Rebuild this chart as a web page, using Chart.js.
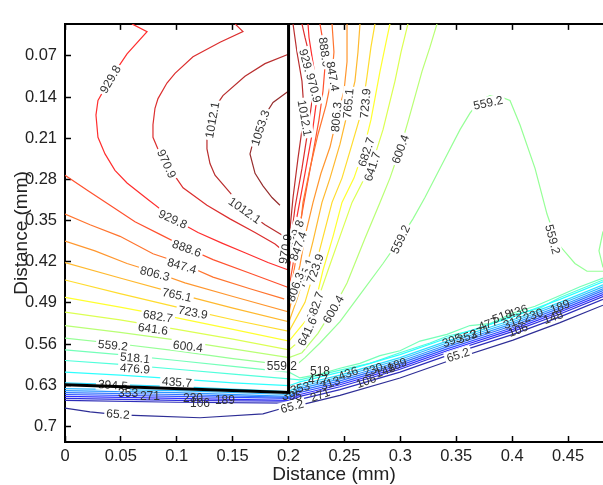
<!DOCTYPE html>
<html><head><meta charset="utf-8">
<script src="https://cdn.jsdelivr.net/npm/chart.js@4.4.1/dist/chart.umd.min.js"></script>
<style>html,body{margin:0;padding:0;background:#fff;}#wrap{width:603px;height:485px;}</style>
</head><body><div id="wrap"><canvas id="c" width="603" height="485"></canvas></div>
<script>
// ---- tick labels ----
const xTickValues = [0,0.05,0.1,0.15,0.2,0.25,0.3,0.35,0.4,0.45];
const xTickLabels = ['0','0.05','0.1','0.15','0.2','0.25','0.3','0.35','0.4','0.45'];
const yTickValues = [0.07,0.14,0.21,0.28,0.35,0.42,0.49,0.56,0.63,0.7];
const yTickLabels = ['0.07','0.14','0.21','0.28','0.35','0.42','0.49','0.56','0.63','0.7'];
const xRange = [0, 0.4813];
const yRange = [0.0156, 0.7265];

// ---- contour levels ----
const levels = [65.2,106.4,147.6,188.8,229.9,271.1,312.3,353.5,394.6,435.7,476.9,518.1,559.2,600.4,641.6,682.7,723.9,765.1,806.3,847.4,888.6,929.8,970.9,1012.1,1053.3];

// ---- contour lines, [x (mm), y (mm)] ----
const c65_2 = [[0,.6688],[.0224,.6754],[.0492,.6803],[.0742,.682],[.1208,.6853],[.1771,.6787],[.1923,.6704],[.2004,.6655],[.2102,.6638],[.246,.6473],[.2997,.6176],[.3417,.5896],[.4008,.5533],[.4428,.5236],[.4813,.4939]];
const c106_4 = [[0,.6556],[.1002,.6589],[.2004,.6605],[.2102,.6539],[.246,.6374],[.2997,.6077],[.3417,.5797],[.4008,.5434],[.4428,.5137],[.4813,.484]];
const c147_6 = [[0,.6523],[.1002,.6556],[.2004,.6572],[.2102,.649],[.246,.6325],[.2997,.6028],[.3417,.5747],[.4008,.5384],[.4428,.5088],[.4813,.4791]];
const c188_8 = [[0,.649],[.1002,.6523],[.2004,.6556],[.2102,.6457],[.246,.6292],[.2997,.5995],[.3417,.5714],[.4008,.5351],[.4428,.5055],[.4813,.4758]];
const c229_9 = [[0,.6457],[.1002,.649],[.2004,.6523],[.2102,.6424],[.246,.6259],[.2997,.5962],[.3417,.5681],[.4008,.5318],[.4428,.5022],[.4813,.4725]];
const c271_1 = [[0,.6424],[.1002,.6457],[.2004,.6506],[.2102,.6391],[.246,.6226],[.2997,.5929],[.3417,.5648],[.4008,.5285],[.4428,.4989],[.4813,.4692]];
const c312_3 = [[0,.6391],[.1002,.6424],[.2004,.649],[.2102,.6358],[.246,.6193],[.2997,.5896],[.3417,.5615],[.4008,.5252],[.4428,.4956],[.4813,.4659]];
const c353_5 = [[0,.6358],[.1002,.6391],[.2004,.6457],[.2102,.6325],[.246,.616],[.2997,.5863],[.3417,.5582],[.4008,.522],[.4428,.4923],[.4813,.4626]];
const c394_6 = [[0,.6259],[.1002,.6325],[.2004,.6407],[.2102,.6292],[.246,.6127],[.2997,.583],[.3417,.5549],[.4008,.5187],[.4428,.489],[.4813,.4593]];
const c435_7 = [[0,.6077],[.0492,.6127],[.1002,.6193],[.1503,.6259],[.2004,.6308],[.2102,.6242],[.246,.6077],[.2997,.578],[.3417,.55],[.4008,.5137],[.4428,.484],[.4813,.4543]];
const c476_9 = [[0,.5879],[.0492,.5945],[.1002,.6028],[.1503,.611],[.2004,.6193],[.2102,.6209],[.246,.6044],[.2729,.5929],[.2997,.5747],[.3265,.5582],[.3417,.5467],[.3713,.5335],[.4008,.5104],[.4249,.4989],[.4428,.4807],[.4813,.451]];
const c518_1 = [[0,.5698],[.0492,.578],[.1002,.5879],[.1503,.5978],[.2004,.6077],[.2102,.6176],[.2281,.611],[.246,.6011],[.2639,.5929],[.2818,.5797],[.2997,.5714],[.3176,.5549],[.3417,.5434],[.3623,.5285],[.3802,.5252],[.4008,.5071],[.4205,.4956],[.4428,.4774],[.4607,.4626],[.4813,.4477]];
const c559_2 = [[0,.55],[.0492,.5599],[.1002,.5714],[.1503,.5846],[.2004,.5962],[.2075,.5945],[.2147,.583],[.2281,.5582],[.246,.522],[.2639,.4758],[.2845,.423],[.2997,.3817],[.3113,.3471],[.322,.3108],[.3399,.2448],[.3534,.1954],[.3623,.1673],[.3713,.1459],[.3802,.1376],[.3891,.1393],[.3981,.1459],[.407,.1871],[.4205,.2613],[.4312,.3389],[.4366,.3685],[.4428,.3933],[.4562,.423],[.467,.4362],[.4813,.4362]];
const c559_2b = [[.4813,.3685],[.4777,.4015],[.4813,.4296]];
const c600_4 = [[0,.5285],[.0492,.5401],[.1002,.5533],[.1503,.5681],[.2004,.583],[.212,.5747],[.2263,.5417],[.2398,.5005],[.2523,.456],[.2684,.3801],[.2818,.3191],[.2907,.2778],[.2997,.2283],[.3068,.1822],[.3194,.0964],[.3265,.0552],[.3328,.0156]];
const c641_6 = [[0,.5055],[.0492,.5187],[.1002,.5351],[.1503,.5516],[.2004,.5698],[.2075,.5582],[.2165,.5335],[.2263,.484],[.2353,.4345],[.246,.3768],[.2568,.3191],[.2657,.2861],[.2755,.2498],[.2845,.1954],[.2952,.1129],[.3006,.0634],[.3068,.0156]];
const c682_7 = [[0,.4807],[.0492,.4972],[.1002,.5154],[.1503,.5351],[.2004,.5549],[.2075,.5384],[.2147,.522],[.2236,.4923],[.2308,.4345],[.2398,.3768],[.2478,.3191],[.2585,.2778],[.2666,.2333],[.2737,.1789],[.2818,.0964],[.2863,.0552],[.2907,.0156]];
const c723_9 = [[0,.451],[.0492,.4741],[.1002,.4972],[.1503,.5187],[.2004,.5384],[.2075,.5137],[.2147,.489],[.2219,.4428],[.2299,.385],[.2389,.3191],[.2478,.2778],[.2568,.2201],[.2657,.1624],[.2702,.1046],[.2737,.0552],[.2773,.0156]];
const c765_1 = [[0,.4213],[.0492,.4477],[.1002,.4741],[.1503,.4989],[.2004,.522],[.2075,.484],[.2147,.4395],[.2219,.385],[.2299,.3191],[.2371,.2778],[.246,.2201],[.2532,.1624],[.2594,.1129],[.2621,.0634],[.2639,.0156]];
const c806_3 = [[0,.385],[.0268,.4015],[.0555,.423],[.0805,.4378],[.1073,.456],[.1503,.4791],[.2004,.5055],[.2049,.4675],[.2102,.4263],[.2147,.3768],[.2219,.3191],[.229,.2696],[.2371,.225],[.2433,.1739],[.2496,.1294],[.2523,.0799],[.2523,.0156]];
const c847_4 = [[0,.3389],[.0224,.357],[.0492,.3768],[.0787,.4065],[.1047,.423],[.1324,.4461],[.1655,.4659],[.2004,.4857],[.2049,.4345],[.2093,.385],[.2129,.3191],[.2192,.2613],[.2263,.2036],[.2335,.1541],[.2389,.1046],[.2406,.0634],[.2389,.0156]];
const c888_6 = [[0,.2729],[.0206,.2993],[.0403,.324],[.0626,.3521],[.085,.3735],[.1091,.3966],[.1324,.4164],[.1655,.4395],[.2004,.4642],[.2067,.3933],[.2138,.3191],[.221,.2448],[.2272,.1789],[.2308,.1294],[.2326,.0881],[.2317,.0552],[.2281,.0156]];
const c929_8 = [[.0599,.0156],[.0734,.0288],[.0555,.0667],[.0403,.1096],[.0295,.1459],[.0277,.1706],[.0295,.2085],[.0358,.2366],[.0447,.2646],[.0555,.2861],[.0742,.3141],[.0966,.3471],[.119,.3702],[.1404,.3883],[.161,.4048],[.1816,.4213],[.2004,.4345],[.2075,.3438],[.2147,.2696],[.221,.2036],[.2245,.1541],[.2245,.1129],[.221,.0716],[.2183,.0387],[.2174,.0156]];
const c970_9 = [[.1521,.0156],[.1592,.0288],[.1387,.0469],[.1145,.0716],[.0984,.0997],[.0912,.1162],[.0832,.1426],[.0805,.1591],[.0787,.1871],[.0787,.2085],[.085,.2366],[.0912,.2531],[.0984,.2745],[.1056,.2943],[.127,.324],[.1476,.3471],[.17,.3702],[.1879,.39],[.2004,.4098],[.2058,.3273],[.212,.2613],[.2174,.1954],[.221,.1459],[.2219,.1244],[.2201,.0799],[.2147,.0387],[.212,.0156]];
const c1012_1 = [[.2004,.0667],[.1789,.0832],[.161,.1046],[.1413,.1376],[.1342,.1574],[.1297,.1822],[.127,.2036],[.127,.2283],[.1297,.2531],[.1342,.2729],[.1476,.3026],[.161,.3323],[.1789,.357],[.2004,.3817],[.204,.3108],[.2084,.2448],[.212,.1954],[.2138,.1624],[.212,.1129],[.2075,.0634],[.204,.0156]];
const c1053_3 = [[.2004,.1294],[.1861,.1492],[.1762,.1789],[.17,.2036],[.1655,.2366],[.17,.2696],[.1771,.291],[.1852,.3108],[.1923,.324]];

const contourLines = [
  [65.2,c65_2],[106.4,c106_4],[147.6,c147_6],[188.8,c188_8],[229.9,c229_9],[271.1,c271_1],
  [312.3,c312_3],[353.5,c353_5],[394.6,c394_6],[435.7,c435_7],[476.9,c476_9],[518.1,c518_1],
  [559.2,c559_2],[559.2,c559_2b],[600.4,c600_4],[641.6,c641_6],[682.7,c682_7],[723.9,c723_9],
  [765.1,c765_1],[806.3,c806_3],[847.4,c847_4],[888.6,c888_6],[929.8,c929_8],[970.9,c970_9],
  [1012.1,c1012_1],[1053.3,c1053_3]
];

// ---- domain boundary (thick black line) ----
const boundaryX = [0, 0.2, 0.2];
const boundaryY = [0.6292, 0.6424, 0.0156];

// ---- inline contour labels: text, x, y, angle ----
const gapLabels = [
  ['929.8',.0403,.1096,-60],['1012.1',.1315,.1789,-80],['1053.3',.1744,.1921,-72],
  ['970.9',.0912,.2531,65],['1012.1',.161,.3323,35],['929.8',.0966,.3471,25],
  ['888.6',.1091,.3966,20],['847.4',.1047,.4263,16],['806.3',.0805,.4395,14],
  ['765.1',.1002,.4758,12],['723.9',.1145,.5055,11],['682.7',.0832,.5121,9],
  ['641.6',.0787,.5335,8],['600.4',.11,.5632,7],['559.2',.0429,.5615,6],
  ['518.1',.0626,.583,5],['476.9',.0626,.6011,4],['435.7',.1002,.6242,4],
  ['394.5',.0429,.6292,4],['65.2',.0474,.6787,4],['559.2',.194,.5962,0],
  ['65.2',.2031,.6655,-15],
  ['929.8',.2165,.0832,75],['970.9',.2228,.1244,75],['1012.1',.2147,.1756,80],
  ['888.6',.2326,.0634,82],['847.4',.2398,.1046,80],['806.3',.2424,.1739,-85],
  ['765.1',.2532,.1508,-85],['723.9',.2684,.1508,-85],['682.7',.2693,.2333,-72],
  ['641.7',.2746,.258,-72],['600.4',.2997,.2283,-70],['559.2',.2997,.3817,-65],
  ['559.2',.3784,.1492,-12],['559.2',.4366,.3817,75],
  ['929.8',.2058,.3735,-70],['847.4',.2084,.3933,-70],['765.1',.2147,.4395,-70],
  ['723.9',.2236,.4312,-70],['806.3',.2058,.4626,-70],['682.7',.2236,.4956,-70],
  ['641.6',.2165,.5384,-65],['600.4',.2398,.5005,-60],['970.9',.1968,.3982,-80],
  ['65.2',.3516,.578,-18]
];
const bandLabels = [
  ['518',.2281,.6044,0],['477',.2263,.6209,0],['395',.2031,.6473,0],['353',.2102,.6341,-15],
  ['313',.2371,.6259,-20],['271',.2281,.6457,-20],['436',.2532,.6094,-20],['230',.2755,.6028,-20],
  ['106',.2693,.6226,-20],['148',.2863,.6044,-20],['189',.297,.5945,-20],
  ['395',.3462,.5533,-20],['353',.3596,.5467,-20],['271',.3713,.5384,-20],['477',.3784,.5252,-20],
  ['518',.3909,.5121,-20],['312',.4008,.522,-20],['436',.4052,.5038,-20],['106',.4052,.5351,-20],
  ['230',.4187,.5104,-20],['148',.4366,.5137,-20],['189',.4428,.4956,-20],
  ['353',.0564,.6424,0],['271',.076,.6473,0],['230',.1145,.6506,0],['106',.1208,.6589,0],['189',.1431,.6539,0]
];

// ---- styling ----
const FONT = '"Liberation Sans", Arial, Helvetica, sans-serif';
function jet(level) {
  const t = (level - levels[0]) / (levels[levels.length-1] - levels[0]);
  const cl = v => Math.max(0, Math.min(1, v));
  const r = cl(1.5 - Math.abs(4*t - 3)), g = cl(1.5 - Math.abs(4*t - 2)), b = cl(1.5 - Math.abs(4*t - 1));
  const m = v => Math.round(v*255*0.82 + 255*0.18);
  return `rgb(${m(r)},${m(g)},${m(b)})`;
}

const datasets = [{
  data: boundaryX.map((x,i)=>({x, y: boundaryY[i]})),
  showLine: true, borderColor: '#000', borderWidth: 3, pointRadius: 0, fill: false
}];
contourLines.forEach(([lvl, pts]) => {
  datasets.push({
    data: pts.map(p => ({x: p[0], y: p[1]})),
    showLine: true, borderColor: jet(lvl), borderWidth: 1.2, pointRadius: 0, fill: false
  });
});

const labelPlugin = {
  id: 'clabels',
  beforeDatasetDraw(chart, args) {
    if (args.index !== 0) return;
    const ctx = chart.ctx, xs = chart.scales.x, ys = chart.scales.y;
    const a = chart.chartArea;
    ctx.save();
    ctx.beginPath(); ctx.rect(a.left, a.top, a.right - a.left, a.bottom - a.top); ctx.clip();
    ctx.font = '12px ' + FONT;
    ctx.textAlign = 'center'; ctx.textBaseline = 'middle';
    const draw = (list, bg) => list.forEach(([t, x, y, ang]) => {
      ctx.save();
      ctx.translate(xs.getPixelForValue(x), ys.getPixelForValue(y));
      ctx.rotate(ang * Math.PI / 180);
      if (bg) {
        const w = ctx.measureText(t).width;
        ctx.fillStyle = '#fff';
        ctx.fillRect(-w/2 - 2, -6, w + 4, 12);
      }
      ctx.fillStyle = '#333';
      ctx.fillText(t, 0, 1);
      ctx.restore();
    });
    draw(gapLabels, true);
    draw(bandLabels, false);
    ctx.restore();
  }
};

const setTicks = vals => s => { s.ticks = vals.map(v => ({value: v})); };
const tickFont = {family: FONT, size: 16.5};

new Chart(document.getElementById('c'), {
  type: 'scatter',
  data: {datasets},
  options: {
    responsive: false, animation: false, devicePixelRatio: 1,
    layout: {padding: 0},
    plugins: {legend: {display: false}, tooltip: {enabled: false}},
    scales: {
      x: {
        type: 'linear', position: 'bottom', min: xRange[0], max: xRange[1],
        afterBuildTicks: setTicks(xTickValues),
        afterFit: s => { s.height = 43; },
        ticks: {callback: (v, i) => xTickLabels[i], font: tickFont, color: '#222', padding: 11, maxRotation: 0, autoSkip: false, includeBounds: false},
        grid: {drawOnChartArea: false, color: '#000', tickLength: -6, tickWidth: 1.5},
        border: {color: '#000', width: 2},
        title: {display: true, text: 'Distance (mm)', font: {family: FONT, size: 19}, color: '#222', padding: {top: 0, bottom: -1}}
      },
      x2: {
        type: 'linear', position: 'top', min: xRange[0], max: xRange[1],
        afterBuildTicks: setTicks(xTickValues),
        afterFit: s => { s.height = 11; },
        ticks: {display: false},
        grid: {drawOnChartArea: false, color: '#000', tickLength: -6, tickWidth: 1.5},
        border: {color: '#000', width: 2}
      },
      y: {
        type: 'linear', position: 'left', reverse: true, min: yRange[0], max: yRange[1],
        afterBuildTicks: setTicks(yTickValues),
        afterFit: s => { s.width = 65; },
        ticks: {callback: (v, i) => yTickLabels[i], font: tickFont, color: '#222', padding: 14, autoSkip: false, includeBounds: false},
        grid: {drawOnChartArea: false, color: '#000', tickLength: -6, tickWidth: 1.5},
        border: {color: '#000', width: 2},
        title: {display: true, text: 'Distance (mm)', font: {family: FONT, size: 19}, color: '#222', padding: {top: 10, bottom: 0}}
      }
    }
  },
  plugins: [labelPlugin]
});
</script>
</body></html>
